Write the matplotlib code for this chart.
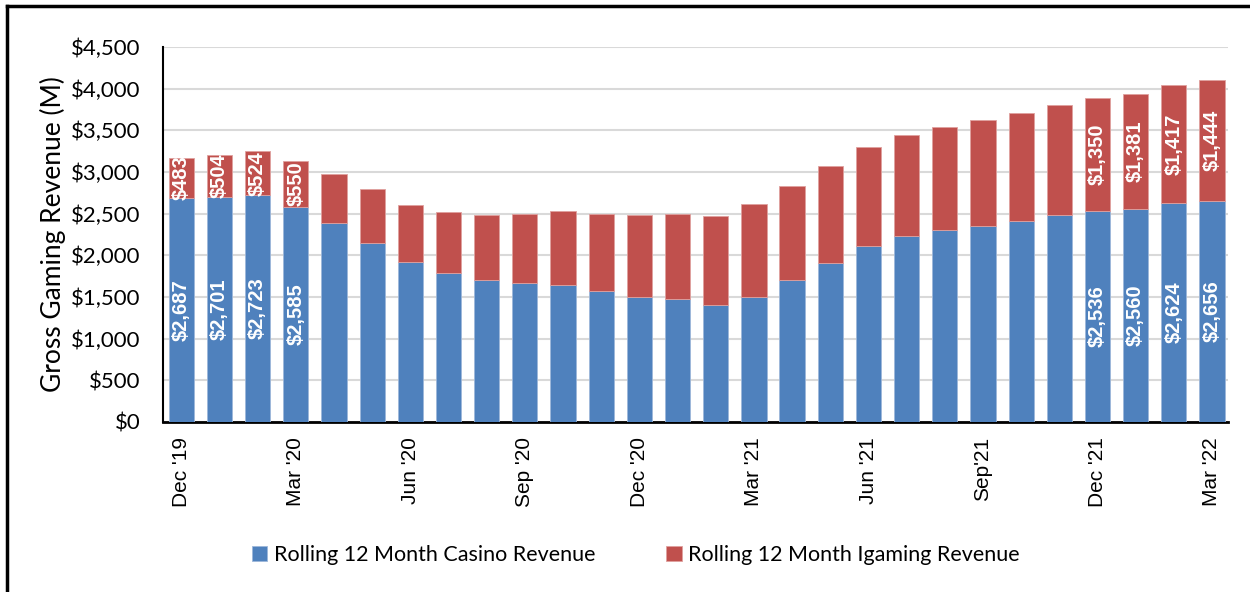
import matplotlib.pyplot as plt
from matplotlib.lines import Line2D

# Rolling 12 month revenue, $M
months = ["Dec '19", "Jan '20", "Feb '20", "Mar '20", "Apr '20", "May '20", "Jun '20",
          "Jul '20", "Aug '20", "Sep '20", "Oct '20", "Nov '20", "Dec '20", "Jan '21",
          "Feb '21", "Mar '21", "Apr '21", "May '21", "Jun '21", "Jul '21", "Aug '21",
          "Sep'21", "Oct '21", "Nov '21", "Dec '21", "Jan '22", "Feb '22", "Mar '22"]
casino = [2687, 2701, 2723, 2585, 2388, 2152, 1916, 1792, 1700, 1664, 1648, 1568, 1504, 1472,
          1404, 1504, 1700, 1914, 2116, 2236, 2304, 2356, 2416, 2480, 2536, 2560, 2624, 2656]
igaming = [483, 504, 524, 550, 588, 644, 688, 732, 784, 832, 880, 924, 976, 1024,
           1064, 1112, 1132, 1158, 1180, 1208, 1232, 1264, 1296, 1320, 1350, 1381, 1417, 1444]
labelled = [0, 1, 2, 3, 24, 25, 26, 27]

BLUE = "#4F81BD"
RED = "#C0504D"

fig = plt.figure(figsize=(12.5, 5.92), dpi=100)
ax = fig.add_axes([163 / 1250, 1 - 422 / 592, (1228 - 163) / 1250, (422 - 47) / 592])

x = list(range(len(months)))
ax.bar(x, casino, width=0.66, color=BLUE, edgecolor="#9DB7DA", linewidth=0.6,
       label="Rolling 12 Month Casino Revenue", zorder=3)
ax.bar(x, igaming, width=0.66, bottom=casino, color=RED, edgecolor="#E0A09E", linewidth=0.6,
       label="Rolling 12 Month Igaming Revenue", zorder=3)

for i in labelled:
    ax.text(i, casino[i] / 2, f"${casino[i]:,}", rotation=90, ha="center", va="center",
            color="white", fontsize=14.5, fontweight="bold", family="Liberation Sans", zorder=4)
    ax.text(i, casino[i] + igaming[i] / 2, f"${igaming[i]:,}", rotation=90, ha="center",
            va="center", color="white", fontsize=14.5, fontweight="bold", family="Liberation Sans",
            zorder=4)

ax.set_xlim(-0.48, 27.42)
ax.set_ylim(0, 4500)
ax.set_yticks(range(0, 4501, 500))
ax.set_yticklabels([f"${v:,}" for v in range(0, 4501, 500)], family="Lato", fontsize=16)
ax.set_xticks(x[::3])
ax.set_xticklabels(months[::3], rotation=90, family="Liberation Sans", fontsize=15)
ax.tick_params(axis="y", length=0, pad=16)
ax.tick_params(axis="x", length=0, pad=11)
ax.grid(axis="y", color="#D9D9D9", linewidth=1.5, zorder=0)
ax.set_axisbelow(True)
for s in ["top", "right"]:
    ax.spines[s].set_visible(False)
ax.spines["left"].set_linewidth(1.5)
ax.spines["bottom"].set_linewidth(2)
ax.set_ylabel("Gross Gaming Revenue (M)", family="Lato", fontsize=19, labelpad=4)

fig.legend(loc="center", bbox_to_anchor=(636 / 1250, 1 - 555 / 592), ncol=2, frameon=False,
           prop={"family": "Lato", "size": 15.5}, handlelength=0.7, handleheight=0.7,
           handletextpad=0.3, columnspacing=3.3)

# frame lines along the top and left edges
fig.add_artist(Line2D([7 / 1250, 7 / 1250], [0, 1 - 6 / 592], color="black", linewidth=2.5))
fig.add_artist(Line2D([7 / 1250, 1], [1 - 6 / 592, 1 - 6 / 592], color="black", linewidth=2.5))

fig.savefig("out.png", dpi=100)
